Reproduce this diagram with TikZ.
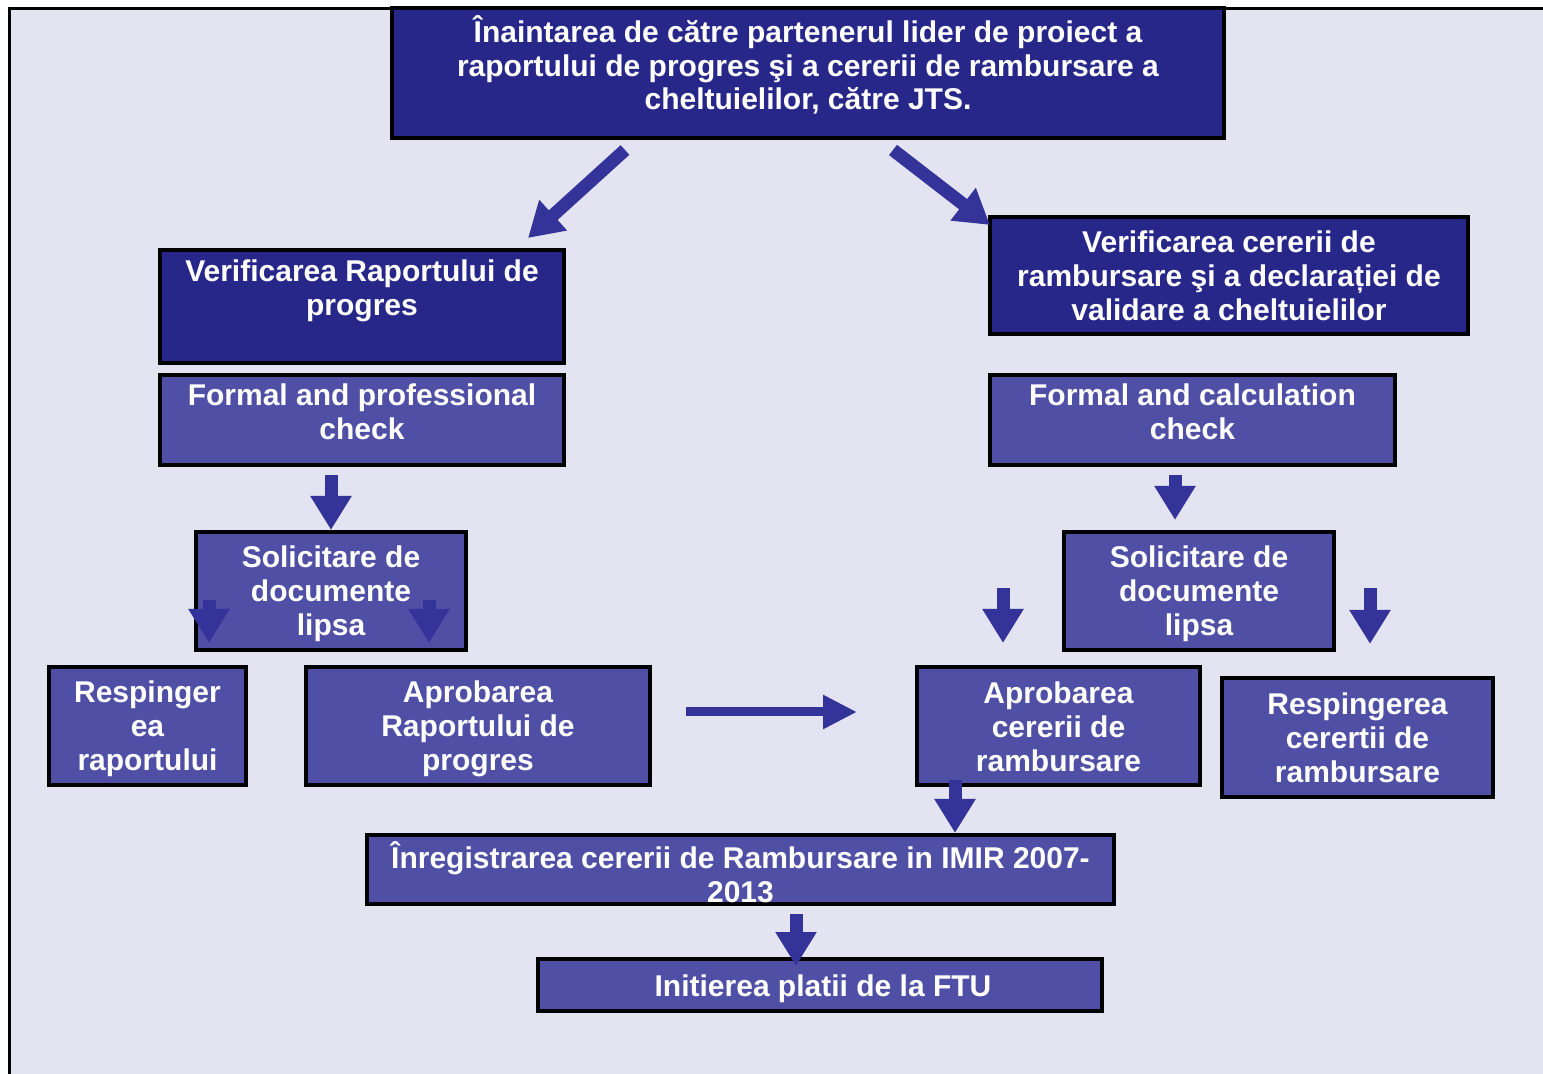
\documentclass[tikz,border=0pt]{standalone}
\usepackage{fontspec}
\setmainfont{Liberation Sans}
\usetikzlibrary{arrows.meta}
\definecolor{bgc}{HTML}{E3E3F2}
\definecolor{darkbox}{HTML}{27278A}
\definecolor{lightbox}{HTML}{4F4FA6}
\definecolor{arrowc}{HTML}{333399}
\tikzset{
  box/.style={draw=black, line width=2pt, inner sep=0pt},
  darkb/.style={box, fill=darkbox},
  lightb/.style={box, fill=lightbox},
  boxtext/.style={text=white, align=center, inner sep=0pt,
    font=\bfseries\fontsize{15}{16.9}\selectfont},
  blockarrow/.style={draw=arrowc, line width=6.5pt, -{Triangle[width=19.5pt,length=17pt]}},
  thinarrow/.style={draw=arrowc, line width=4.5pt, -{Triangle[width=16pt,length=17pt]}}
}
\begin{document}
\begin{tikzpicture}[x=0.5pt,y=-0.5pt]
\useasboundingbox (0,0) rectangle (1543,1074);
\fill[bgc] (9,9) rectangle (1543,1074);
\draw[line width=1.5pt] (9,1074) -- (9,9) -- (1543,9);

% boxes
\node[darkb, minimum width=416pt, minimum height=65pt] (top) at (808,73) {};
\node[boxtext] (topT) at (808,65)
  {Înaintarea de către partenerul lider de proiect a\\raportului de progres şi a cererii de rambursare a\\cheltuielilor, către JTS.};

\node[darkb, minimum width=202pt, minimum height=56.5pt] (verl) at (362,306.5) {};
\node[boxtext] (verlT) at (362,291)
  {Verificarea Raportului de\\progres};

\node[lightb, minimum width=202pt, minimum height=45pt] (forl) at (362,420) {};
\node[boxtext] (forlT) at (362,412)
  {Formal and professional\\check};

\node[darkb, minimum width=239pt, minimum height=58.5pt] (verr) at (1229,275.5) {};
\node[boxtext] (verrT) at (1229,276)
  {Verificarea cererii de\\rambursare şi a declarației de\\validare a cheltuielilor};

\node[lightb, minimum width=202.5pt, minimum height=45pt] (forr) at (1192.5,420) {};
\node[boxtext] (forrT) at (1192.5,412)
  {Formal and calculation\\check};

\node[lightb, minimum width=135pt, minimum height=59pt] (soll) at (331,591) {};
\node[boxtext] (sollT) at (331,594)
  {Solicitare de\\documente\\lipsa};

\node[lightb, minimum width=135pt, minimum height=59pt] (solr) at (1199,591) {};
\node[boxtext] (solrT) at (1199,594)
  {Solicitare de\\documente\\lipsa};

\node[lightb, minimum width=98.5pt, minimum height=59pt] (resl) at (147.5,726) {};
\node[boxtext] (reslT) at (147.5,729)
  {Respinger\\ea\\raportului};

\node[lightb, minimum width=172pt, minimum height=59pt] (aprl) at (478,726) {};
\node[boxtext] (aprlT) at (478,729)
  {Aprobarea\\Raportului de\\progres};

\node[lightb, minimum width=141.5pt, minimum height=59pt] (aprr) at (1058.5,726) {};
\node[boxtext] (aprrT) at (1058.5,727)
  {Aprobarea\\cererii de\\rambursare};

\node[lightb, minimum width=135.5pt, minimum height=59.5pt] (resr) at (1357.5,737.5) {};
\node[boxtext] (resrT) at (1357.5,738)
  {Respingerea\\cerertii de\\rambursare};

\node[lightb, minimum width=373.5pt, minimum height=34.5pt] (inr) at (740.5,869.5) {};
\node[boxtext] (inrT) at (740.5,872)
  {Înregistrarea cererii de Rambursare in IMIR 2007-\\2013};

\node[lightb, minimum width=282pt, minimum height=26pt] (ini) at (820,985) {};
\node[boxtext] (iniT) at (823,989)
  {Initierea platii de la FTU};

% arrow end points
\coordinate (dlA) at (625,150);  \coordinate (dlB) at (528,238);
\coordinate (drA) at (893,150);  \coordinate (drB) at (990,225);
\coordinate (flA) at (331,475);  \coordinate (flB) at (331,530);
\coordinate (frA) at (1175,475); \coordinate (frB) at (1175,520);
\coordinate (s1A) at (209,600);  \coordinate (s1B) at (209,643);
\coordinate (s2A) at (429,600);  \coordinate (s2B) at (429,643);
\coordinate (s3A) at (1003,588); \coordinate (s3B) at (1003,643);
\coordinate (s4A) at (1370,588); \coordinate (s4B) at (1370,644);
\coordinate (hA) at (686,712);   \coordinate (hB) at (857,712);
\coordinate (arA) at (955,780);  \coordinate (arB) at (955,833);
\coordinate (inA) at (796,914);  \coordinate (inB) at (796,966);

\draw[blockarrow] (dlA) -- (dlB);
\draw[blockarrow] (drA) -- (drB);
\draw[blockarrow] (flA) -- (flB);
\draw[blockarrow] (frA) -- (frB);
\draw[blockarrow] (s1A) -- (s1B);
\draw[blockarrow] (s2A) -- (s2B);
\draw[blockarrow] (s3A) -- (s3B);
\draw[blockarrow] (s4A) -- (s4B);
\draw[thinarrow] (hA) -- (hB);
\draw[blockarrow] (arA) -- (arB);
\draw[blockarrow] (inA) -- (inB);
\end{tikzpicture}
\end{document}
